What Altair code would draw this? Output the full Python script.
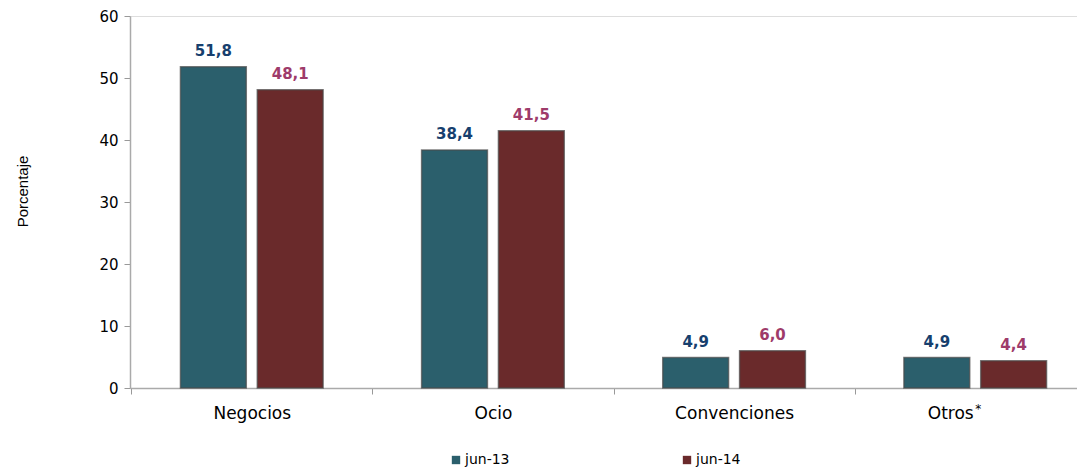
import altair as alt
import pandas as pd

categories = ["Negocios", "Ocio", "Convenciones", "Otros"]
series = ["jun-13", "jun-14"]
jun13 = [51.8, 38.4, 4.9, 4.9]
jun14 = [48.1, 41.5, 6.0, 4.4]
yticks = [0, 10, 20, 30, 40, 50, 60]

rows = []
for c, a, b in zip(categories, jun13, jun14):
    rows.append({"cat": c, "serie": "jun-13", "val": a, "lab": f"{a:.1f}".replace(".", ",")})
    rows.append({"cat": c, "serie": "jun-14", "val": b, "lab": f"{b:.1f}".replace(".", ",")})
df = pd.DataFrame(rows)

W, H = 947, 372
font = "DejaVu Sans"

xscale = alt.Scale(domain=categories, range=[0, 967], paddingInner=0, paddingOuter=0.005)
xoff = alt.Scale(domain=series, paddingInner=0.143, paddingOuter=0.641)

x = alt.X("cat:N", scale=xscale, sort=categories,
          axis=alt.Axis(title=None, labelAngle=0, labelFontSize=17, labelFont=font,
                        labelColor="#000", labelPadding=11, tickBand="extent",
                        tickSize=6, tickColor="#999", domainColor="#aaa", domainWidth=1.5,
                        labelOffset={"condition": {"test": "datum.value == 'Otros'", "value": -25}, "value": 0}))
y = alt.Y("val:Q", scale=alt.Scale(domain=[0, 60], nice=False),
          axis=alt.Axis(values=yticks, title="Porcentaje", grid=False, labelFontSize=15,
                        labelFont=font, labelColor="#000", labelPadding=6, tickSize=6,
                        tickColor="#999", domainColor="#aaa", domainWidth=1.5,
                        titleFont="Liberation Sans", titleFontSize=15, titleFontWeight="normal",
                        titleColor="#000", titleX=-108, titleY=175, titleBaseline="middle"))

color = alt.Color("serie:N", scale=alt.Scale(domain=series, range=["#2b5f6c", "#6a2a2b"]),
                  legend=alt.Legend(title=None, orient="none", legendX=319, legendY=437,
                                    direction="horizontal", symbolType="square", symbolSize=70,
                                    symbolStrokeWidth=0, labelFontSize=14, labelFont=font,
                                    labelColor="#000", columnPadding=170, labelOffset=2, padding=0))

bars = alt.Chart(df).mark_bar(stroke="#4a4a4a", strokeWidth=1.5, strokeOpacity=0.7).encode(
    x=x, xOffset=alt.XOffset("serie:N", scale=xoff, sort=series), y=y, color=color
)

labels = alt.Chart(df).mark_text(fontWeight="bold", fontSize=15, font=font, baseline="bottom", dy=-8).encode(
    x=alt.X("cat:N", scale=xscale, sort=categories),
    xOffset=alt.XOffset("serie:N", scale=xoff, sort=series),
    y="val:Q", text="lab:N",
    color=alt.Color("serie:N", scale=alt.Scale(domain=series, range=["#173f6e", "#9e3b6a"]), legend=None),
)

star = alt.Chart(pd.DataFrame({"cat": ["Otros"], "t": ["*"]})).mark_text(
    fontSize=12, font=font, color="#000", dx=3, baseline="middle"
).encode(x=alt.X("cat:N", scale=xscale, sort=categories), y=alt.value(H + 21), text="t:N")

chart = alt.layer(bars, labels, star).resolve_scale(color="independent").properties(
    width=W, height=H, padding={"left": 122, "top": 8, "right": 0, "bottom": 80},
    autosize=alt.AutoSizeParams(type="none"),
).configure_view(stroke=None).configure(background="white")

chart.save("out.html", embed_options={"renderer": "svg", "actions": False})
